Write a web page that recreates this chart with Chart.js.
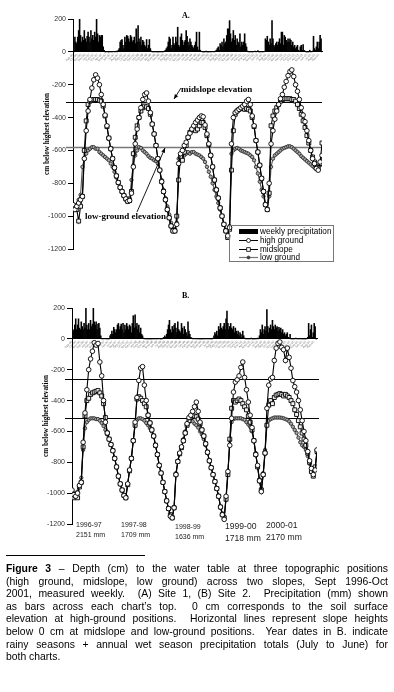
<!DOCTYPE html>
<html>
<head>
<meta charset="utf-8">
<script src="https://cdn.jsdelivr.net/npm/chart.js@4.4.1/dist/chart.umd.min.js"></script>
<style>
  body { margin: 0; background: #fff; }
  #wrap { position: relative; width: 394px; height: 692px; overflow: hidden; background: #fff; }
  canvas { position: absolute; left: 0; }
  .t { position: absolute; white-space: nowrap; line-height: 1; color: #000; }
  .serif { font-family: "Liberation Serif", "Times New Roman", serif; font-weight: bold; }
  .sans { font-family: "Liberation Sans", Arial, sans-serif; }
  #legendA { position: absolute; left: 229px; top: 225px; width: 105px; height: 37px; border: 1px solid #777;
             box-sizing: border-box; font: 8.2px "Liberation Sans", Arial, sans-serif; }
  #legendA .row { position: absolute; left: 9px; height: 9px; display: flex; align-items: center; }
  #legendA svg { width: 19px; height: 7px; margin-right: 2px; }
  #caption { position: absolute; left: 6px; top: 563px; width: 382px; font: 10.4px "Liberation Sans", Arial, sans-serif;
             line-height: 12.6px; color: #000; }
  #caption div { text-align: justify; text-align-last: justify; }
  #caption div.last { text-align-last: left; }
  #sep { position: absolute; left: 6px; top: 555px; width: 139px; height: 1px; background: #000; }
</style>
</head>
<body>
<div id="wrap">
  <canvas id="chartA" width="394" height="262" style="top:0;width:394px;height:262px"></canvas>
  <canvas id="chartB" width="394" height="262" style="top:280px;width:394px;height:262px"></canvas>

  <div class="t serif" style="left:182px;top:12px;font-size:8px">A.</div>
  <div class="t serif" style="left:182px;top:292px;font-size:8px">B.</div>
  <div class="t serif" style="left:181px;top:85px;font-size:9px">midslope elevation</div>
  <div class="t serif" style="left:85px;top:212px;font-size:9px">low-ground elevation</div>

  <div id="legendA">
    <div class="row" style="top:1px"><svg viewBox="0 0 19 7"><rect x="0" y="1" width="19" height="5" fill="#000"/></svg>weekly precipitation</div>
    <div class="row" style="top:10px"><svg viewBox="0 0 19 7"><line x1="0" y1="3.5" x2="19" y2="3.5" stroke="#000" stroke-width="1"/><circle cx="9.5" cy="3.5" r="2" fill="#fff" stroke="#000" stroke-width="0.8"/></svg>high ground</div>
    <div class="row" style="top:18.5px"><svg viewBox="0 0 19 7"><line x1="0" y1="3.5" x2="19" y2="3.5" stroke="#000" stroke-width="1"/><rect x="7.7" y="1.7" width="3.6" height="3.6" fill="#fff" stroke="#000" stroke-width="0.8"/></svg>midslope</div>
    <div class="row" style="top:27px"><svg viewBox="0 0 19 7"><line x1="0" y1="3.5" x2="19" y2="3.5" stroke="#777" stroke-width="1.2"/><circle cx="9.5" cy="3.5" r="1.5" fill="#444" stroke="#222" stroke-width="0.6"/></svg>low ground</div>
  </div>

  <div id="years"></div>

  <div id="sep"></div>
  <div id="caption">
    <div><b>Figure 3</b> – Depth (cm) to the water table at three topographic positions</div>
    <div>(high ground, midslope, low ground) across two slopes, Sept 1996-Oct</div>
    <div>2001, measured weekly.&nbsp; (A) Site 1, (B) Site 2.&nbsp; Precipitation (mm) shown</div>
    <div>as bars across each chart’s top.&nbsp; 0 cm corresponds to the soil surface</div>
    <div>elevation at high-ground positions.&nbsp; Horizontal lines represent slope heights</div>
    <div>below 0 cm at midslope and low-ground positions.&nbsp; Year dates in B. indicate</div>
    <div>rainy seasons + annual wet season precipitation totals (July to June) for</div>
    <div class="last">both charts.</div>
  </div>
</div>

<script>
// weekly precipitation (mm), week 0 = early Sept 1996
const precipA = [
  0, 0, 90, 60, 50, 90, 130, 210, 100, 60,
  90, 70, 130, 80, 60, 95, 120, 90, 60, 130,
  80, 100, 70, 120, 90, 205, 110, 60, 100, 90,
  100, 100, 30, 10, 0, 0, 2, 0, 0, 0,
  0, 0, 0, 3, 0, 0, 5, 0, 10, 20,
  60, 70, 75, 40, 20, 90, 60, 100, 95, 80,
  60, 100, 90, 60, 70, 90, 50, 140, 60, 160,
  80, 60, 90, 40, 70, 60, 40, 30, 75, 20,
  40, 75, 20, 5, 0, 0, 0, 2, 0, 0,
  0, 0, 0, 0, 0, 0, 0, 5, 10, 20,
  30, 60, 90, 80, 20, 40, 90, 50, 40, 90,
  60, 150, 40, 30, 90, 110, 70, 40, 60, 70,
  130, 95, 60, 40, 80, 60, 40, 30, 20, 40,
  60, 120, 30, 10, 120, 10, 2, 0, 0, 0,
  0, 5, 0, 0, 0, 0, 0, 0, 2, 0,
  0, 5, 10, 20, 30, 10, 50, 40, 60, 30,
  80, 50, 60, 100, 140, 140, 190, 110, 60, 80,
  130, 70, 100, 40, 80, 60, 50, 110, 30, 60,
  40, 60, 110, 50, 30, 5, 0, 0, 0, 0,
  0, 0, 3, 5, 0, 2, 8, 0, 0, 0,
  0, 0, 0, 2, 80, 70, 95, 60, 40, 80,
  50, 190, 80, 40, 30, 50, 60, 40, 60, 80,
  50, 120, 120, 40, 100, 90, 70, 60, 80, 60,
  80, 70, 40, 60, 30, 40, 20, 30, 40, 10,
  5, 30, 40, 10, 45, 10, 5, 0, 0, 0,
  0, 10, 0, 0, 5, 95, 20, 10, 30, 60,
  20, 60, 100, 80, 0
];
const precipB = [
  85, 60, 50, 90, 130, 60, 90, 130, 70, 60,
  110, 80, 60, 100, 70, 205, 90, 60, 100, 60,
  120, 80, 95, 205, 110, 90, 110, 60, 95, 100,
  70, 20, 0, 0, 0, 2, 0, 0, 0, 0,
  0, 20, 30, 50, 30, 75, 60, 40, 60, 90,
  100, 60, 80, 95, 60, 100, 40, 90, 60, 100,
  80, 60, 90, 80, 40, 100, 150, 70, 155, 80,
  100, 60, 90, 40, 70, 30, 20, 5, 0, 0,
  0, 0, 0, 0, 0, 0, 0, 0, 0, 0,
  0, 0, 0, 0, 2, 0, 0, 0, 5, 10,
  20, 10, 30, 60, 90, 120, 60, 40, 80, 60,
  90, 100, 70, 40, 110, 60, 50, 40, 100, 70,
  30, 80, 60, 40, 20, 110, 50, 30, 10, 5,
  0, 0, 3, 0, 0, 0, 0, 0, 0, 0,
  0, 0, 0, 0, 0, 0, 0, 0, 0, 0,
  0, 0, 5, 20, 40, 30, 50, 20, 80, 60,
  100, 70, 60, 80, 100, 60, 130, 180, 100, 60,
  80, 100, 70, 60, 80, 40, 70, 50, 30, 50,
  20, 40, 30, 10, 50, 20, 5, 0, 0, 0,
  0, 0, 0, 5, 0, 0, 0, 0, 0, 0,
  5, 0, 20, 60, 40, 90, 30, 60, 80, 50,
  190, 80, 40, 70, 90, 60, 120, 80, 60, 90,
  70, 80, 50, 75, 60, 70, 40, 60, 30, 40,
  20, 30, 40, 10, 5, 30, 0, 0, 0, 0,
  0, 5, 0, 0, 0, 0, 0, 0, 0, 0,
  0, 0, 0, 0, 10, 100, 20, 60, 90, 10,
  40, 100, 80, 0, 0
];

// water table depth (cm below highest elevation), one reading every 2 weeks
const sampleStep = 2;
const highA = [
  -930, -960, -940, -920, -900, -880, -650, -480, -360, -290,
  -220, -170, -140, -160, -200, -260, -320, -385, -450, -525,
  -590, -650, -705, -755, -795, -825, -850, -875, -895, -910,
  -905, -860, -700, -560, -470, -400, -340, -290, -260, -250,
  -300, -370, -440, -500, -570, -650, -720, -790, -850, -900,
  -960, -1010, -1060, -1090, -1090, -1050, -680, -620, -600, -570,
  -550, -520, -495, -470, -450, -430, -415, -400, -390, -395,
  -445, -500, -560, -630, -700, -780, -840, -890, -950, -1000,
  -1050, -1090, -1120, -1070, -560, -400, -370, -360, -350, -340,
  -330, -320, -300, -290, -320, -390, -450, -540, -610, -690,
  -770, -850, -930, -960, -800, -560, -480, -410, -360, -320,
  -285, -260, -215, -180, -145, -120, -110, -150, -200, -240,
  -290, -340, -385, -425, -480, -540, -600, -650, -680, -710,
  -720, -670, -630
];
const midA = [
  -940, -950, -960, -1030, -940, -880, -600, -420, -320, -300,
  -295, -290, -290, -290, -295, -300, -330, -390, -455, -525,
  -590, -650, -705, -755, -795, -825, -850, -875, -895, -910,
  -905, -850, -620, -520, -450, -400, -360, -340, -330, -335,
  -345, -380, -440, -500, -570, -650, -720, -790, -850, -900,
  -960, -1010, -1060, -1090, -1090, -1000, -780, -640, -660, -610,
  -570, -520, -490, -475, -470, -480, -470, -450, -430, -430,
  -460, -510, -565, -630, -700, -780, -840, -890, -950, -1000,
  -1050, -1090, -1130, -1080, -720, -480, -380, -360, -350, -345,
  -345, -350, -345, -350, -360, -400, -455, -540, -610, -690,
  -770, -850, -930, -960, -860, -450, -390, -360, -340, -320,
  -300, -290, -285, -285, -285, -285, -290, -290, -300, -320,
  -345, -380, -420, -460, -510, -555, -600, -640, -670, -700,
  -705, -680, -555
];
const lowA = [
  -940, -950, -930, -900, -870, -700, -650, -620, -600, -590,
  -580, -580, -590, -590, -610, -620, -630, -640, -650, -660,
  -680, -700, -730, -765, -800, -830, -855, -880, -900, -910,
  -890, -780, -690, -630, -600, -580, -585, -600, -610, -620,
  -635, -645, -650, -660, -665, -680, -720, -780, -840, -890,
  -940, -990, -1040, -1080, -1080, -1040, -650, -640, -650, -630,
  -620, -610, -620, -610, -610, -620, -625, -630, -640, -650,
  -670, -700, -730, -760, -800, -840, -880, -920, -960, -1000,
  -1050, -1090, -1120, -1060, -620, -600, -590, -585, -590, -600,
  -605, -610, -615, -620, -630, -640, -660, -700, -740, -790,
  -840, -880, -930, -960, -880, -700, -650, -630, -620, -610,
  -600, -590, -585, -580, -575, -575, -580, -590, -600, -610,
  -620, -635, -645, -655, -665, -675, -685, -695, -705, -715,
  -720, -690, -650
];
const highB = [
  -980, -1010, -1020, -1000, -950, -930, -670, -480, -330, -200,
  -130, -80, -25, -40, -30, -150, -240, -400, -540, -610,
  -650, -685, -725, -775, -830, -890, -940, -980, -1015, -1030,
  -940, -850, -775, -660, -540, -380, -270, -190, -180, -300,
  -400, -495, -545, -590, -630, -690, -750, -820, -870, -930,
  -990, -1050, -1100, -1150, -1160, -1095, -880, -795, -740, -700,
  -660, -610, -550, -510, -495, -470, -440, -410, -470, -540,
  -590, -630, -680, -735, -790, -835, -880, -925, -970, -1020,
  -1090, -1140, -1170, -1020, -860, -690, -515, -345, -280, -265,
  -240, -185, -150, -250, -330, -410, -495, -575, -660, -750,
  -820, -920, -990, -880, -740, -450, -300, -260, -250, -140,
  -60, -30, -20, -55, -70, -140, -60, -120, -190, -270,
  -310, -345, -400, -460, -530, -600, -660, -730, -790, -840,
  -880, -850, -720
];
const midB = [
  -1000, -1030, -1020, -1030, -960, -930, -700, -500, -400, -385,
  -360, -350, -345, -340, -335, -350, -370, -420, -510, -610,
  -650, -685, -725, -775, -830, -890, -940, -980, -1015, -1030,
  -945, -855, -775, -660, -560, -390, -375, -385, -400, -420,
  -440, -495, -545, -590, -630, -690, -750, -820, -870, -930,
  -990, -1050, -1100, -1140, -1160, -1095, -880, -795, -745, -705,
  -660, -610, -560, -530, -510, -500, -500, -505, -520, -550,
  -590, -630, -680, -735, -790, -835, -880, -925, -970, -1020,
  -1090, -1140, -1160, -1040, -880, -650, -450, -400, -410, -400,
  -390, -400, -420, -440, -460, -500, -540, -590, -660, -750,
  -830, -920, -980, -880, -740, -560, -430, -400, -420, -380,
  -365, -360, -355, -360, -370, -360, -370, -380, -400, -420,
  -460, -490, -530, -570, -610, -650, -690, -740, -800, -860,
  -890, -830, -730
];
const lowB = [
  -990, -1010, -1000, -990, -950, -900, -720, -580, -540, -525,
  -515, -515, -515, -520, -520, -530, -545, -565, -590, -620,
  -650, -685, -725, -775, -830, -890, -940, -980, -1010, -1020,
  -940, -850, -770, -660, -560, -525, -515, -515, -520, -530,
  -545, -560, -580, -600, -630, -690, -750, -820, -870, -930,
  -990, -1050, -1100, -1140, -1150, -1090, -870, -790, -740, -700,
  -650, -600, -560, -540, -530, -535, -550, -560, -575, -600,
  -620, -650, -690, -740, -790, -835, -880, -925, -970, -1020,
  -1090, -1130, -1150, -1030, -860, -660, -540, -520, -515, -515,
  -515, -515, -520, -525, -540, -555, -570, -600, -660, -740,
  -830, -910, -970, -870, -720, -560, -530, -520, -515, -510,
  -510, -510, -510, -512, -515, -520, -525, -535, -550, -570,
  -590, -610, -640, -670, -690, -700, -720, -760, -810, -860,
  -880, -840, -740
];

// slope heights below 0 cm: [midslope, low ground]
const elevA = [-305, -578];
const elevB = [-258, -516];

const monthLabels = [
  'Sep-96','Oct-96','Nov-96','Dec-96','Jan-97','Feb-97','Mar-97','Apr-97','May-97','Jun-97','Jul-97','Aug-97',
  'Sep-97','Oct-97','Nov-97','Dec-97','Jan-98','Feb-98','Mar-98','Apr-98','May-98','Jun-98','Jul-98','Aug-98',
  'Sep-98','Oct-98','Nov-98','Dec-98','Jan-99','Feb-99','Mar-99','Apr-99','May-99','Jun-99','Jul-99','Aug-99',
  'Sep-99','Oct-99','Nov-99','Dec-99','Jan-00','Feb-00','Mar-00','Apr-00','May-00','Jun-00','Jul-00','Aug-00',
  'Sep-00','Oct-00','Nov-00','Dec-00','Jan-01','Feb-01','Mar-01','Apr-01','May-01','Jun-01','Jul-01','Aug-01',
  'Sep-01'
];
const weeksPerMonth = 52.18 / 12;

const yearLabels = ['1996-97', '1997-98', '1998-99', '1999-00', '2000-01'];
const yearTotals = ['2151 mm', '1709 mm', '1636 mm', '1718 mm', '2170 mm'];

// year label placement under chart B (left x, top y, font size)
const yearPos = [[76, 520, 7], [121, 520, 7], [175, 522, 7], [225, 521, 8.6], [266, 520, 8.6]];
yearLabels.forEach((lab, i) => {
  const [x, y, fs] = yearPos[i];
  const d = document.createElement('div');
  d.className = 't sans';
  d.style.cssText = `left:${x}px;top:${y}px;font-size:${fs}px;line-height:${fs + 3}px;color:#222`;
  d.innerHTML = lab + '<br>' + yearTotals[i];
  document.getElementById('years').appendChild(d);
});

// horizontal elevation lines + arrows
const elevPlugin = {
  id: 'elevLines',
  beforeDatasetsDraw(chart, args, opts) {
    const {ctx, chartArea} = chart;
    const y = chart.scales.y;
    ctx.save();
    opts.values.forEach((v, i) => {
      const py = Math.round(y.getPixelForValue(v)) + 0.5;
      ctx.strokeStyle = opts.colors[i];
      ctx.lineWidth = opts.widths[i];
      ctx.beginPath();
      ctx.moveTo(chartArea.left - 7, py);
      ctx.lineTo(chartArea.right + opts.extraRight, py);
      ctx.stroke();
    });
    ctx.restore();
  },
  afterDraw(chart, args, opts) {
    const ctx = chart.ctx;
    (opts.arrows || []).forEach(a => {
      const [x1, y1, x2, y2] = a;
      const ang = Math.atan2(y2 - y1, x2 - x1);
      ctx.save();
      ctx.strokeStyle = '#000';
      ctx.fillStyle = '#000';
      ctx.lineWidth = 0.9;
      ctx.beginPath();
      ctx.moveTo(x1, y1);
      ctx.lineTo(x2, y2);
      ctx.stroke();
      ctx.beginPath();
      ctx.moveTo(x2, y2);
      ctx.lineTo(x2 - 5 * Math.cos(ang - 0.4), y2 - 5 * Math.sin(ang - 0.4));
      ctx.lineTo(x2 - 5 * Math.cos(ang + 0.4), y2 - 5 * Math.sin(ang + 0.4));
      ctx.closePath();
      ctx.fill();
      ctx.restore();
    });
  }
};

function makeChart(id, precip, high, mid, low, elev, layout) {
  const toPts = arr => arr.map((v, i) => ({x: i * sampleStep, y: v}));
  return new Chart(document.getElementById(id), {
    type: 'bar',
    data: {
      datasets: [
        {
          type: 'line', label: 'high ground', data: toPts(high), order: 1,
          borderColor: '#000', borderWidth: 1.1, tension: 0,
          pointStyle: 'circle', pointRadius: 2.3, pointBorderWidth: 0.9,
          pointBorderColor: '#000', pointBackgroundColor: '#fff'
        },
        {
          type: 'line', label: 'midslope', data: toPts(mid), order: 2,
          borderColor: '#000', borderWidth: 1.1, tension: 0,
          pointStyle: 'rect', pointRadius: 2.8, pointBorderWidth: 0.9,
          pointBorderColor: '#000', pointBackgroundColor: '#f0f0f0'
        },
        {
          type: 'line', label: 'low ground', data: toPts(low), order: 3,
          borderColor: '#555', borderWidth: 1.1, tension: 0,
          pointStyle: 'circle', pointRadius: 1.7, pointBorderWidth: 0.8,
          pointBorderColor: '#222', pointBackgroundColor: '#aaa'
        },
        {
          type: 'bar', label: 'weekly precipitation', order: 4,
          data: precip.map((v, i) => ({x: i, y: v})),
          backgroundColor: '#000', borderWidth: 0,
          barPercentage: 1, categoryPercentage: 1
        }
      ]
    },
    options: {
      responsive: false,
      animation: false,
      devicePixelRatio: 1,
      layout: {padding: layout.padding},
      plugins: {
        legend: {display: false},
        tooltip: {enabled: false},
        elevLines: {
          values: elev, colors: layout.lineColors, widths: layout.lineWidths,
          extraRight: layout.extraRight, arrows: layout.arrows
        }
      },
      scales: {
        x: {
          type: 'linear', min: 0, max: 264, offset: false,
          position: {y: 0},
          grid: {display: false, drawTicks: false},
          border: {display: true, color: '#000', width: 1},
          afterBuildTicks: s => { s.ticks = monthLabels.map((_, i) => ({value: i * weeksPerMonth})); },
          ticks: {
            autoSkip: false, minRotation: 45, maxRotation: 45, padding: 1,
            font: {size: 3, family: 'Liberation Sans'}, color: '#777',
            callback: (v, i) => monthLabels[i]
          }
        },
        y: {
          min: -1200, max: 200,
          afterFit: s => { s.width = 30; },
          grid: {display: true, drawOnChartArea: false, drawTicks: true, tickLength: 5, color: '#000'},
          border: {display: true, color: '#000', width: 1},
          ticks: {
            stepSize: 200, padding: 2, color: '#333',
            font: {size: 7, family: 'Liberation Sans'},
            callback: v => String(v)
          },
          title: {
            display: true, text: 'cm below highest elevation', color: '#000', padding: 0,
            font: {size: 7.2, weight: 'bold', family: 'Liberation Serif', lineHeight: 1.2}
          }
        }
      }
    },
    plugins: [elevPlugin]
  });
}

makeChart('chartA', precipA, highA, midA, lowA, elevA, {
  padding: {left: 43, right: 72, top: 19, bottom: 13},
  lineColors: ['#000', '#777'], lineWidths: [1, 1.6], extraRight: 0,
  arrows: [[181, 88, 174, 99], [137, 212, 165, 148]]
});
makeChart('chartB', precipB, highB, midB, lowB, elevB, {
  padding: {left: 42, right: 77, top: 28, bottom: 18},
  lineColors: ['#000', '#000'], lineWidths: [1, 1], extraRight: 2,
  arrows: []
});
</script>
</body>
</html>
